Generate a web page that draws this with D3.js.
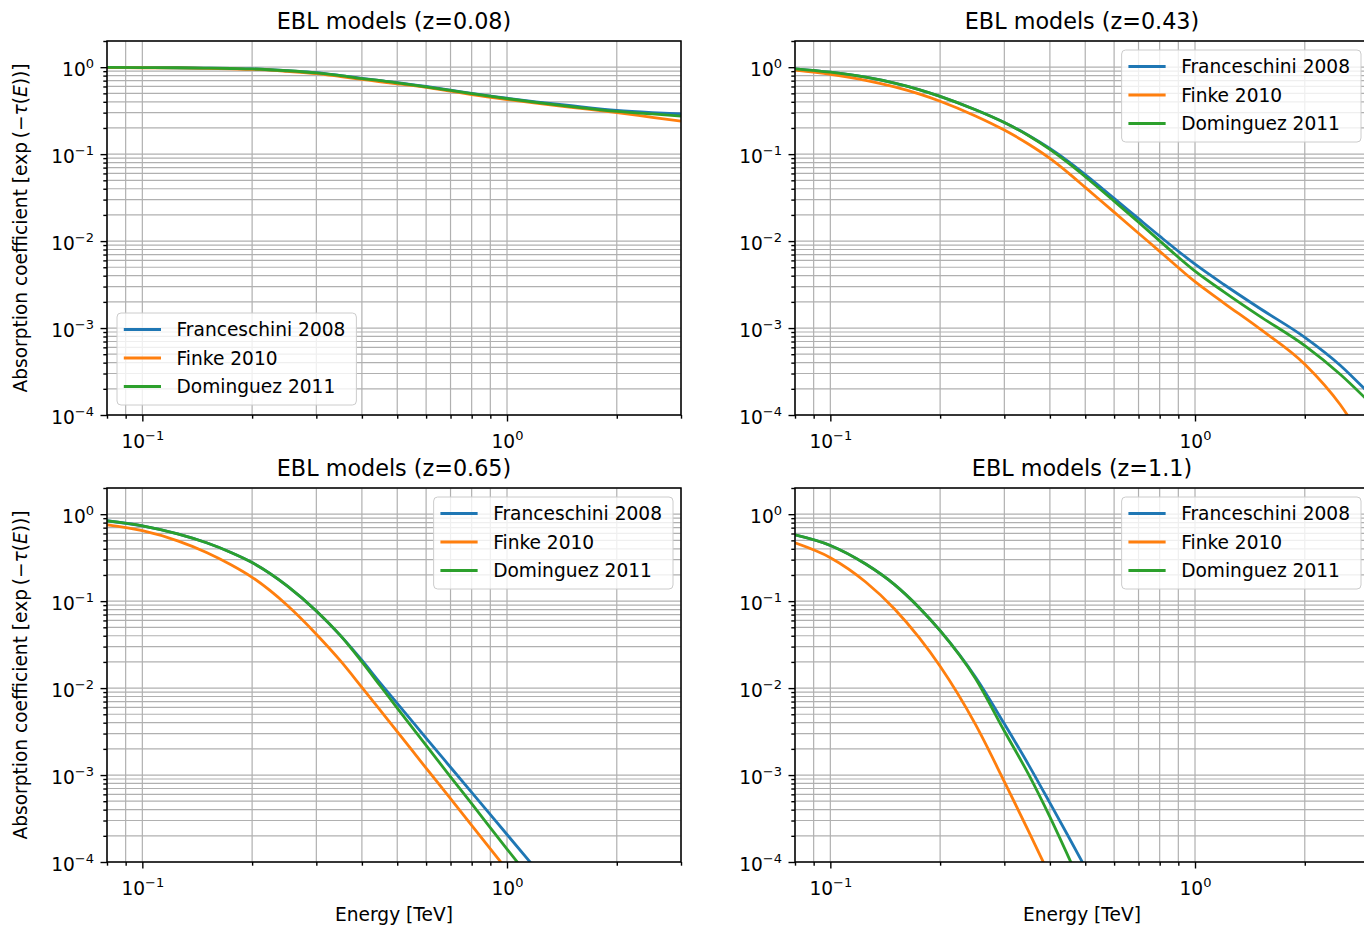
<!DOCTYPE html>
<html>
<head>
<meta charset="utf-8">
<script src="https://cdn.jsdelivr.net/npm/d3@7"></script>
<style>
  body { margin: 0; background: #fff; }
  text { font-family: "DejaVu Sans", sans-serif; fill: #000; }
</style>
</head>
<body>
<svg id="chart" width="1364" height="929"></svg>
<script>
// Photon energies (TeV) at which the absorption coefficient is sampled
const energyTeV = [0.08, 0.1, 0.125, 0.15, 0.175, 0.2, 0.25, 0.3, 0.35, 0.4, 0.45, 0.5, 0.6, 0.7, 0.8, 1.0, 1.2, 1.5, 2.0, 2.5, 3.0];

const modelNames = ["Franceschini 2008", "Finke 2010", "Dominguez 2011"];
const redshifts = ["0.08", "0.43", "0.65", "1.1"];

// exp(-tau(E)) for z = 0.08
const franceschiniZ008 = [0.995, 0.99, 0.985, 0.975, 0.965, 0.955, 0.91, 0.865, 0.80, 0.745, 0.70, 0.665, 0.60, 0.545, 0.50, 0.44, 0.40, 0.36, 0.318, 0.30, 0.29];
const finkeZ008        = [0.99, 0.985, 0.98, 0.97, 0.955, 0.945, 0.895, 0.845, 0.78, 0.725, 0.68, 0.645, 0.585, 0.53, 0.485, 0.425, 0.385, 0.345, 0.30, 0.265, 0.24];
const dominguezZ008    = [0.995, 0.99, 0.985, 0.975, 0.965, 0.955, 0.91, 0.86, 0.80, 0.74, 0.70, 0.66, 0.595, 0.54, 0.497, 0.435, 0.393, 0.352, 0.31, 0.29, 0.274];

// exp(-tau(E)) for z = 0.43
const franceschiniZ043 = [0.957, 0.875, 0.766, 0.656, 0.553, 0.462, 0.324, 0.231, 0.164, 0.116, 0.0820, 0.0582, 0.0310, 0.0181, 0.0114, 0.00543, 0.00317, 0.00170, 0.000782, 0.000374, 0.000177];
const finkeZ043        = [0.923, 0.825, 0.706, 0.593, 0.493, 0.406, 0.275, 0.189, 0.130, 0.0893, 0.0605, 0.0414, 0.0215, 0.0123, 0.00762, 0.00341, 0.00194, 0.000991, 0.000384, 0.000132, 0.0000398];
const dominguezZ043    = [0.957, 0.875, 0.766, 0.656, 0.553, 0.462, 0.324, 0.231, 0.163, 0.1135, 0.0787, 0.0550, 0.0288, 0.0165, 0.01007, 0.00451, 0.00261, 0.00138, 0.000627, 0.000294, 0.000142];

// exp(-tau(E)) for z = 0.65
const franceschiniZ065 = [0.841, 0.735, 0.594, 0.469, 0.363, 0.278, 0.149, 0.0771, 0.0398, 0.0209, 0.0113, 0.00668, 0.00266, 0.00123, 0.000631, 0.000207, 0.0000832, null, null, null, null];
const finkeZ065        = [0.753, 0.646, 0.494, 0.363, 0.262, 0.188, 0.0891, 0.0417, 0.0204, 0.0102, 0.00550, 0.00316, 0.00120, 0.000537, 0.000263, 0.0000813, null, null, null, null, null];
const dominguezZ065    = [0.838, 0.735, 0.594, 0.469, 0.363, 0.278, 0.149, 0.0771, 0.0398, 0.0200, 0.0105, 0.00589, 0.00219, 0.000955, 0.000468, 0.000141, 0.0000537, null, null, null, null];

// exp(-tau(E)) for z = 1.1
const franceschiniZ110 = [0.578, 0.437, 0.267, 0.155, 0.0847, 0.0458, 0.0134, 0.00388, 0.00130, 0.000478, 0.000195, 0.0000865, null, null, null, null, null, null, null, null, null];
const finkeZ110        = [0.468, 0.316, 0.166, 0.0813, 0.0382, 0.0178, 0.00382, 0.000841, 0.000224, 0.0000692, null, null, null, null, null, null, null, null, null, null, null];
const dominguezZ110    = [0.578, 0.437, 0.267, 0.155, 0.0847, 0.0458, 0.0129, 0.00321, 0.00101, 0.000330, 0.000114, 0.0000433, null, null, null, null, null, null, null, null, null];

// Decade tick labels (10^k)
const xTickExponents = [-1, 0];
const yTickExponents = [0, -1, -2, -3, -4];

const seriesByPanel = [
  [franceschiniZ008, finkeZ008, dominguezZ008],
  [franceschiniZ043, finkeZ043, dominguezZ043],
  [franceschiniZ065, finkeZ065, dominguezZ065],
  [franceschiniZ110, finkeZ110, dominguezZ110]
];

// ---- layout & style ----
const colors = ["#1f77b4", "#ff7f0e", "#2ca02c"];
const colX = [107, 795], rowY = [41, 488];
const W = 574, H = 374;
const FS = 18.6;          // base font size
const legendLoc = ["lower left", "upper right", "upper right", "upper right"];

const svg = d3.select("#chart");

const x = d3.scaleLog().domain([0.08, 3]).range([0, W]);
const y = d3.scaleLog().domain([1e-4, 2]).range([H, 0]);

const xMajor = xTickExponents.map(k => Math.pow(10, k));
const yMajor = yTickExponents.map(k => Math.pow(10, k));
const xMinor = [];
for (let k = -2; k <= 0; k++) for (let m = 2; m <= 9; m++) {
  const v = +(m * Math.pow(10, k)).toPrecision(3);
  if (v >= 0.08 && v <= 3) xMinor.push(v);
}
const yMinor = [];
for (let k = -4; k <= 0; k++) for (let m = 2; m <= 9; m++) {
  const v = +(m * Math.pow(10, k)).toPrecision(3);
  if (v >= 1e-4 && v <= 2) yMinor.push(v);
}

function powerLabel(sel, exp) {
  sel.text(null);
  sel.append("tspan").text("10");
  sel.append("tspan").attr("font-size", 13).attr("dy", -8.5)
    .text(exp < 0 ? "\u2212" + (-exp) : String(exp));
}

seriesByPanel.forEach((series, i) => {
  const col = i % 2, row = Math.floor(i / 2);
  const g = svg.append("g").attr("transform", `translate(${colX[col]},${rowY[row]})`);

  // clip region for the curves
  const clipId = "clip" + i;
  g.append("clipPath").attr("id", clipId)
    .append("rect").attr("width", W).attr("height", H);

  // grid: major and minor in both directions
  const grid = g.append("g").attr("stroke", "#b0b0b0").attr("stroke-width", 1.2);
  grid.selectAll("line.gx").data(xMajor.concat(xMinor)).join("line")
    .attr("x1", d => x(d)).attr("x2", d => x(d)).attr("y1", 0).attr("y2", H);
  grid.selectAll("line.gy").data(yMajor.concat(yMinor)).join("line")
    .attr("y1", d => y(d)).attr("y2", d => y(d)).attr("x1", 0).attr("x2", W);

  // curves
  const line = d3.line()
    .defined(d => d.v != null)
    .x(d => x(d.e)).y(d => y(d.v))
    .curve(d3.curveMonotoneX);
  const curves = g.append("g").attr("clip-path", `url(#${clipId})`);
  series.forEach((vals, s) => {
    const pts = energyTeV.map((e, j) => ({ e, v: vals[j] }));
    curves.append("path").datum(pts)
      .attr("d", line)
      .attr("fill", "none")
      .attr("stroke", colors[s])
      .attr("stroke-width", 2.8)
      .attr("stroke-linejoin", "round")
      .attr("stroke-linecap", "butt");
  });

  // axes
  const xAxisG = g.append("g").attr("transform", `translate(0,${H})`);
  xAxisG.call(d3.axisBottom(x).tickValues(xMinor).tickSize(3.7).tickFormat(""));
  const xMaj = g.append("g").attr("transform", `translate(0,${H})`)
    .call(d3.axisBottom(x).tickValues(xMajor).tickSize(6.5).tickPadding(6.5));
  xMaj.selectAll(".tick text")
    .attr("font-size", FS).attr("y", 33).attr("dy", null)
    .each(function (d, j) { powerLabel(d3.select(this), xTickExponents[j]); });

  const yAxisG = g.append("g");
  yAxisG.call(d3.axisLeft(y).tickValues(yMinor).tickSize(3.7).tickFormat(""));
  const yMaj = g.append("g")
    .call(d3.axisLeft(y).tickValues(yMajor).tickSize(6.5).tickPadding(6.5));
  yMaj.selectAll(".tick text")
    .attr("font-size", FS).attr("x", -13).attr("y", 8.5).attr("dy", null)
    .each(function (d, j) { powerLabel(d3.select(this), yTickExponents[j]); });

  g.selectAll(".domain").remove();
  g.selectAll(".tick line").attr("stroke", "#000").attr("stroke-width", 1.4);

  // frame
  g.append("rect").attr("width", W).attr("height", H)
    .attr("fill", "none").attr("stroke", "#000").attr("stroke-width", 1.5);

  // title
  g.append("text").attr("x", W / 2).attr("y", -12)
    .attr("text-anchor", "middle").attr("font-size", 22.3)
    .text(`EBL models (z=${redshifts[i]})`);

  // x label on bottom row
  if (row === 1) {
    g.append("text").attr("x", W / 2).attr("y", H + 59)
      .attr("text-anchor", "middle").attr("font-size", FS)
      .text("Energy [TeV]");
  }
  // y label on left column
  if (col === 0) {
    const t = g.append("text")
      .attr("transform", `translate(${27 - colX[col]},${H / 2}) rotate(-90)`)
      .attr("text-anchor", "middle").attr("font-size", FS);
    t.append("tspan").text("Absorption coefficient [exp\u2009(\u2212");
    t.append("tspan").attr("font-style", "italic").text("\u03C4");
    t.append("tspan").text("(");
    t.append("tspan").attr("font-style", "italic").text("E");
    t.append("tspan").text("))]");
  }

  // legend
  const lg = g.append("g");
  const box = lg.append("rect").attr("rx", 4).attr("ry", 4)
    .attr("fill", "#fff").attr("fill-opacity", 0.8)
    .attr("stroke", "#cccccc").attr("stroke-width", 1);
  const rowGap = 28.5, pad = 6.8, handle = 37.2, hpad = 15.5;
  let maxW = 0;
  modelNames.forEach((name, s) => {
    const cy = 16.5 + s * rowGap;
    lg.append("line").attr("x1", pad).attr("x2", pad + handle)
      .attr("y1", cy).attr("y2", cy)
      .attr("stroke", colors[s]).attr("stroke-width", 2.8);
    const tx = lg.append("text").attr("x", pad + handle + hpad).attr("y", cy + 6.7)
      .attr("font-size", FS).text(name);
    maxW = Math.max(maxW, tx.node().getComputedTextLength());
  });
  const bw = pad + handle + hpad + maxW + 11;
  const bh = 16.5 + 2 * rowGap + 18.5;
  box.attr("width", bw).attr("height", bh);
  if (legendLoc[i] === "lower left") {
    lg.attr("transform", `translate(10,${H - 10 - bh})`);
  } else {
    lg.attr("transform", `translate(${W - 8 - bw},9)`);
  }
});
</script>
</body>
</html>
